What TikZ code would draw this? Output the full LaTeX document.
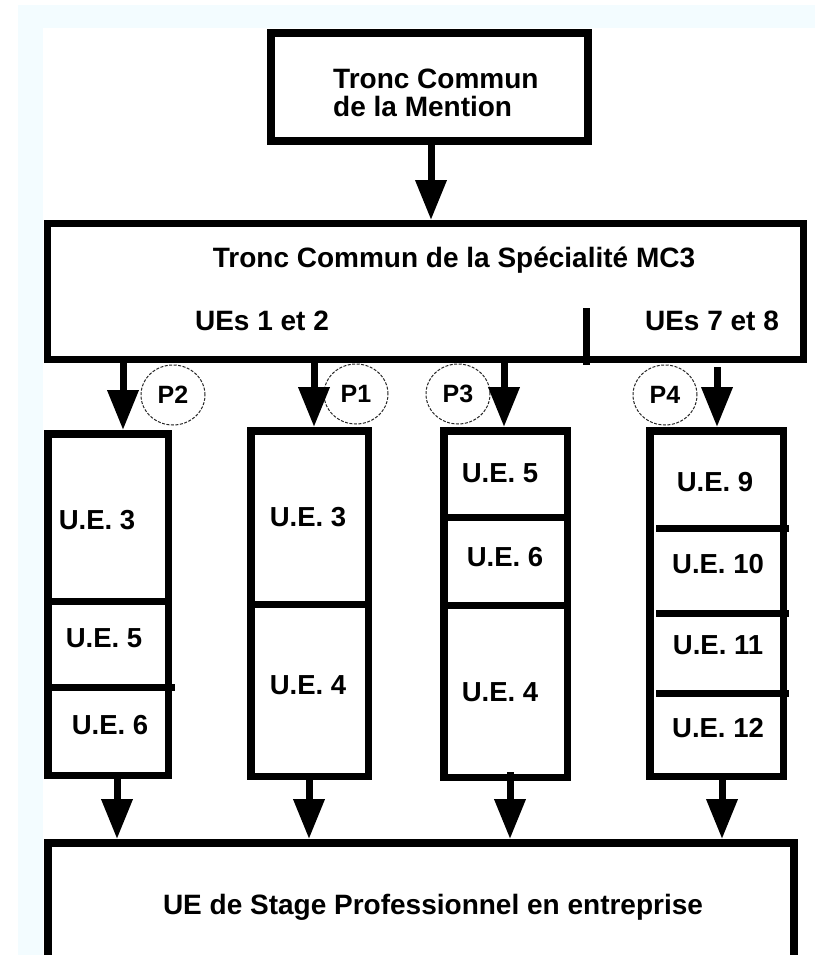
\documentclass[tikz,border=0pt]{standalone}
\usepackage{fontspec}
\setmainfont{Liberation Sans}
\usetikzlibrary{arrows.meta,shapes.geometric}
\definecolor{pale}{RGB}{243,252,255}
\begin{document}
\begin{tikzpicture}[x=1pt,y=-1pt,
  bigbox/.style={draw=black, line width=8pt, outer sep=4pt, inner sep=0pt},
  colbox/.style={draw=black, line width=7.5pt, outer sep=3.75pt, inner sep=0pt},
  lbl/.style={font=\fontsize{28}{30}\selectfont\bfseries, inner sep=0pt},
  uelbl/.style={font=\fontsize{27.5}{30}\selectfont\bfseries, inner sep=0pt},
  arr/.style={line width=7pt, -{Triangle[length=40pt,width=30pt]}},
  pcirc/.style={draw=black!85, dash pattern=on 3pt off 1.5pt, line width=1pt, ellipse,
    minimum width=64pt, minimum height=60pt, inner sep=0pt,
    font=\fontsize{25}{27}\selectfont\bfseries},
  divline/.style={line width=7pt}]
\useasboundingbox (0,0) rectangle (815,955);
\clip (0,0) rectangle (815,955);
\fill[pale] (18,5) rectangle (815,955);
\fill[white] (43,28) rectangle (815,955);

% top box
\node[bigbox, minimum width=317pt, minimum height=108pt] (A) at (429.5,87) {};
\node[lbl, anchor=base west] (At1) at (333,89) {Tronc Commun};
\node[lbl, anchor=base west] (At2) at (333,117) {de la Mention};

% speciality box
\node[bigbox, line width=7pt, outer sep=3.5pt, minimum width=756pt, minimum height=136pt] (B) at (425.5,291.5) {};
\node[lbl, anchor=base] (Bt) at (454,267) {Tronc Commun de la Sp\'ecialit\'e MC3};
\node[lbl, anchor=base] (Bl) at (262,330) {UEs 1 et 2};
\node[lbl, anchor=base] (Br) at (712,330) {UEs 7 et 8};
\draw[divline] (586,308) -- (586,365);

% columns
\node[colbox, minimum width=120.5pt, minimum height=341.5pt] (c1) at (108,604.5) {};
\node[colbox, minimum width=117.5pt, minimum height=345.5pt] (c2) at (309.5,603.5) {};
\node[colbox, minimum width=123.5pt, minimum height=346.5pt] (c3) at (505.5,604) {};
\node[colbox, minimum width=133.5pt, minimum height=345.5pt] (c4) at (716.5,603.5) {};

% dividers
\draw[divline] (c1.west |- 0,601) -- (c1.east |- 0,601);
\draw[divline] (c1.west |- 0,687) -- (175,687);
\draw[divline] (c2.west |- 0,604) -- (c2.east |- 0,604);
\draw[divline] (c3.west |- 0,517) -- (c3.east |- 0,517);
\draw[divline] (c3.west |- 0,605) -- (c3.east |- 0,605);
\draw[divline] (656,528) -- (789,528);
\draw[divline] (656,613) -- (789,613);
\draw[divline] (656,693) -- (789,693);

% cell labels
\node[uelbl] (u13) at (97,520) {U.E. 3};
\node[uelbl] (u15) at (104,638) {U.E. 5};
\node[uelbl] (u16) at (110,725) {U.E. 6};
\node[uelbl] (u23) at (308,517) {U.E. 3};
\node[uelbl] (u24) at (308,685) {U.E. 4};
\node[uelbl] (u35) at (500,473) {U.E. 5};
\node[uelbl] (u36) at (505,557) {U.E. 6};
\node[uelbl] (u34) at (500,692) {U.E. 4};
\node[uelbl] (u49) at (715,482) {U.E. 9};
\node[uelbl] (u410) at (718,564) {U.E. 10};
\node[uelbl] (u411) at (718,645) {U.E. 11};
\node[uelbl] (u412) at (718,728) {U.E. 12};

% bottom box
\node[bigbox, minimum width=746pt, minimum height=116pt] (C) at (421,901) {};
\node[lbl, anchor=base] (Ct) at (433,914) {UE de Stage Professionnel en entreprise};

% circles
\node[pcirc] (P2) at (173,395) {P2};
\node[pcirc] (P1) at (356,394) {P1};
\node[pcirc] (P3) at (458,394) {P3};
\node[pcirc] (P4) at (665,395) {P4};

% arrow positions
\coordinate (t1) at (123,0);
\coordinate (t2) at (314,0);
\coordinate (t3) at (504,0);
\coordinate (t4) at (717,0);
\coordinate (b1) at (117,0);
\coordinate (b2) at (309,0);
\coordinate (b3) at (510,0);
\coordinate (b4) at (722,0);

% connectors
\draw[arr] (A.south -| 431,0) -- (B.north -| 431,0);
\draw[arr] (t1 |- B.south) -- (t1 |- c1.north);
\draw[arr] (t2 |- B.south) -- (t2 |- c2.north);
\draw[arr] (t3 |- B.south) -- (t3 |- c3.north);
\draw[arr, shorten <=4pt] (t4 |- B.south) -- (t4 |- c4.north);
\draw[arr] (b1 |- c1.south) -- (b1 |- C.north);
\draw[arr] (b2 |- c2.south) -- (b2 |- C.north);
\draw[arr, shorten <=-9pt] (b3 |- c3.south) -- (b3 |- C.north);
\draw[arr] (b4 |- c4.south) -- (b4 |- C.north);
\end{tikzpicture}
\end{document}
